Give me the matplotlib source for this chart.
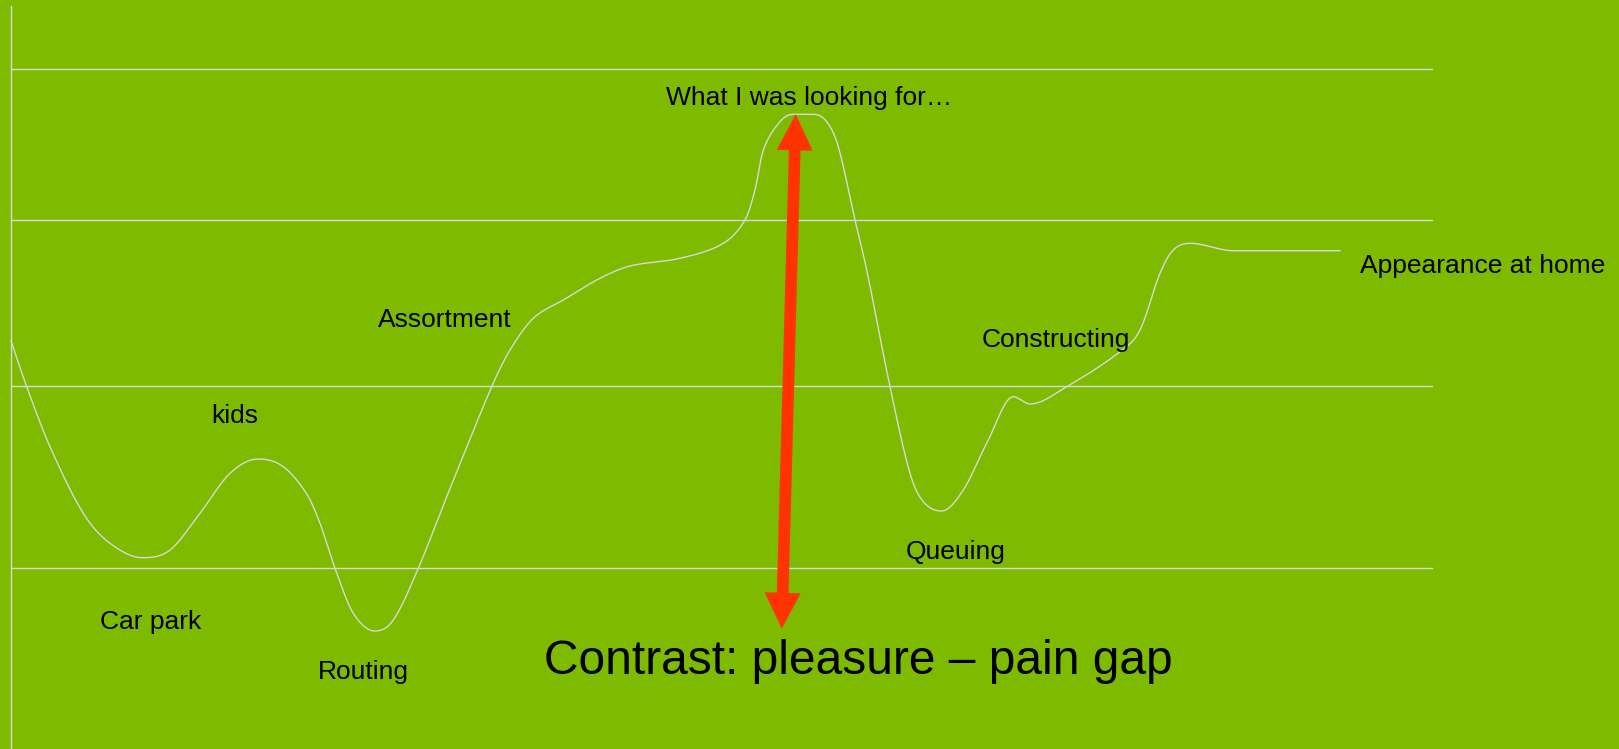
import numpy as np
import matplotlib
matplotlib.use("Agg")
import matplotlib.pyplot as plt

plt.rcParams['font.family'] = ['Liberation Sans', 'DejaVu Sans']

W, H = 1619, 749
BG = '#7DBA00'
LINE = '#D9D9D9'
RED = '#FF3300'

# customer journey curve (x position, emotional level measured upward)
journey_x = [11, 26.7, 50, 83.3, 110, 142.7, 170, 200, 230, 258.3, 283.3, 306.7, 320, 335,
             353.3, 375, 393.3, 418.3, 446.7, 491.7, 510, 533.3, 563.3, 600, 630, 680,
             723.3, 745, 755, 763.3, 780, 793.3, 813.3, 826.7, 838.3, 855, 866.7, 890,
             910, 923.3, 941.7, 963.3, 986.7, 1013.3, 1030, 1066.7, 1120, 1140, 1160,
             1173.3, 1190, 1233.3, 1340]
journey_y = [408.3, 362.3, 302.3, 235.7, 205.7, 191.3, 199, 235.7, 275.7, 290, 282.3,
             255, 225.7, 180.7, 135.7, 118, 129, 180.7, 252.3, 362.3, 399, 430.7, 449,
             470.7, 483, 490.7, 505.7, 529, 559, 599, 627.3, 634.7, 634.7, 627.3, 602.3,
             529, 479, 362.3, 275.7, 247.3, 238, 259, 305.7, 352.3, 345, 362.3, 397.3,
             419, 475.7, 499, 505.7, 498.3, 498.3]

# horizontal reference levels
grid_levels = [680, 529, 363, 181]
grid_x_end = 1432
axis_x = 11
axis_top = 743

# stage labels
labels = ["What I was looking for…", "Appearance at home", "Assortment", "Constructing",
          "kids", "Queuing", "Car park", "Routing"]
label_x = [665.7, 1360, 377.7, 982, 211.7, 906, 100, 317.7]
label_y = [650.9, 483.5, 428.7, 408.5, 333, 197.5, 126.5, 76.5]

title_text = "Contrast: pleasure – pain gap"
title_xy = (544, 88)

# pleasure-pain gap arrow: (x, y) of low end and high end
gap_low = (781.7, 120.2)
gap_high = (795.7, 634.7)


def smooth_curve(xs, ys, n=14):
    x = np.asarray(xs, float)
    y = np.asarray(ys, float)
    h = np.diff(x)
    d = np.diff(y) / h
    m = np.zeros_like(y)
    for k in range(1, len(x) - 1):
        if d[k - 1] * d[k] > 0:
            m[k] = (y[k + 1] - y[k - 1]) / (x[k + 1] - x[k - 1])
    m[0] = d[0]
    m[-1] = d[-1] if d[-1] != 0 else 0
    ox, oy = [], []
    t = np.linspace(0, 1, n, endpoint=False)
    h00 = 2 * t**3 - 3 * t**2 + 1
    h10 = t**3 - 2 * t**2 + t
    h01 = -2 * t**3 + 3 * t**2
    h11 = t**3 - t**2
    for k in range(len(x) - 1):
        ox.append(x[k] + t * h[k])
        oy.append(h00 * y[k] + h10 * h[k] * m[k] + h01 * y[k + 1] + h11 * h[k] * m[k + 1])
    ox.append([x[-1]])
    oy.append([y[-1]])
    return np.concatenate(ox), np.concatenate(oy)


def double_arrow(a, b, width, head_w, head_l):
    a = np.asarray(a, float)
    b = np.asarray(b, float)
    u = (b - a) / np.linalg.norm(b - a)
    nrm = np.array([-u[1], u[0]])
    a2 = a + u * head_l
    b2 = b - u * head_l
    pts = [a, a2 + nrm * head_w / 2, a2 + nrm * width / 2, b2 + nrm * width / 2,
           b2 + nrm * head_w / 2, b, b2 - nrm * head_w / 2, b2 - nrm * width / 2,
           a2 - nrm * width / 2, a2 - nrm * head_w / 2]
    return np.array(pts)


fig = plt.figure(figsize=(W / 100, H / 100), dpi=100, facecolor=BG)
ax = fig.add_axes([0, 0, 1, 1])
ax.set_facecolor(BG)
ax.set_xlim(0, W)
ax.set_ylim(0, H)
ax.axis('off')

for g in grid_levels:
    ax.plot([axis_x, grid_x_end], [g, g], color=LINE, lw=1.0, zorder=1)
ax.plot([axis_x, axis_x], [0, axis_top], color=LINE, lw=1.0, zorder=1)

sx, sy = smooth_curve(journey_x, journey_y)
ax.plot(sx, sy, color=LINE, lw=1.0, zorder=2)

for t, x, y in zip(labels, label_x, label_y):
    ax.text(x, y, t, fontsize=19, color='black', ha='left', va='center', zorder=4)

ax.text(title_xy[0], title_xy[1], title_text, fontsize=34.5, color='black',
        ha='left', va='center', zorder=4)

poly = double_arrow(gap_low, gap_high, 11.7, 36, 36)
ax.fill(poly[:, 0], poly[:, 1], color=RED, lw=0, zorder=3)

fig.savefig('out.png', dpi=100, facecolor=BG)
